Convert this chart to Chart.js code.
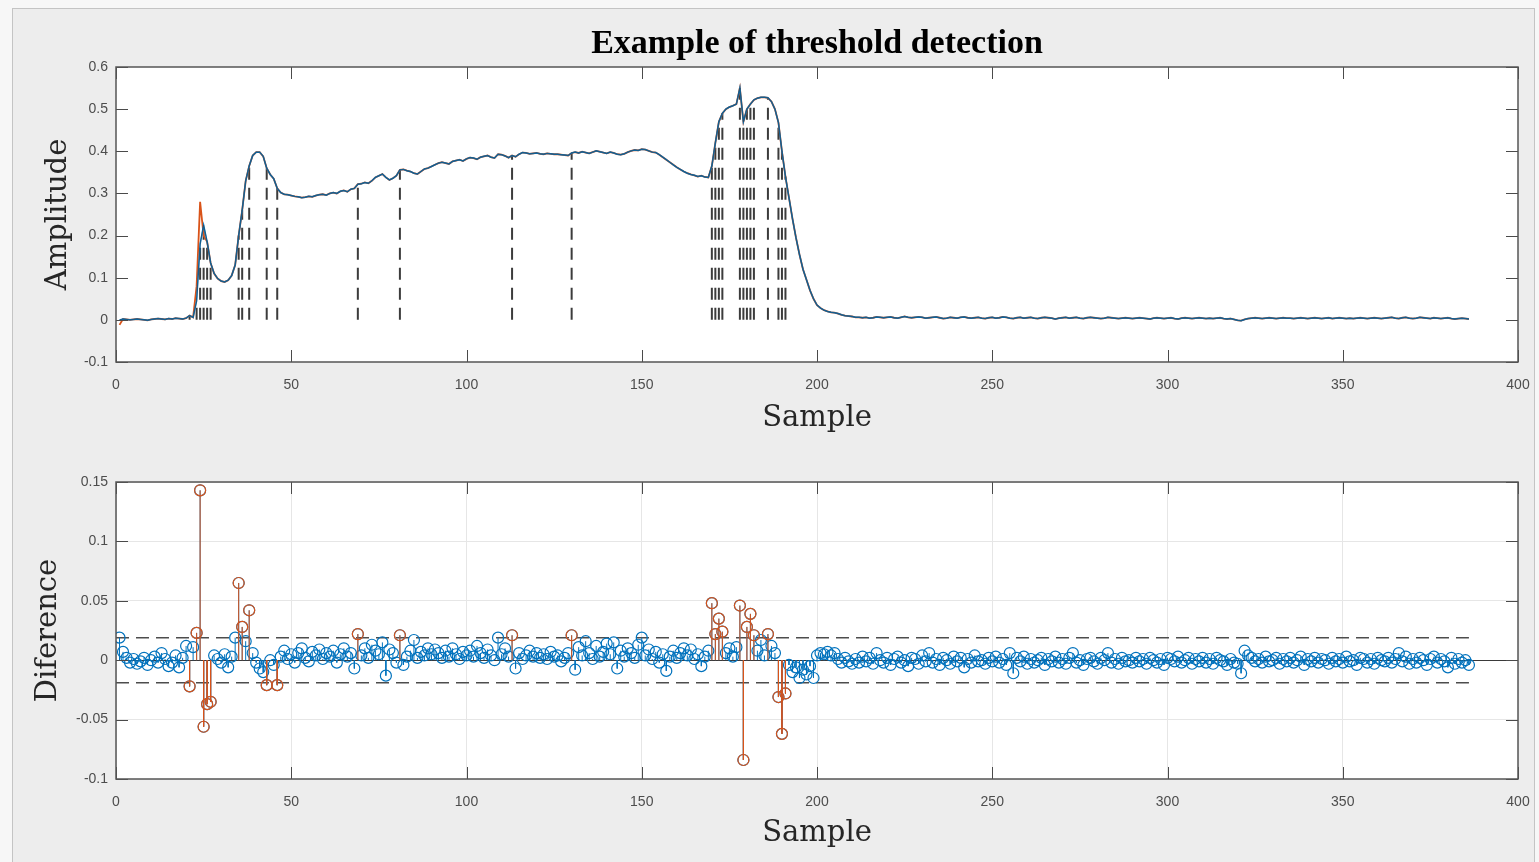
<!DOCTYPE html>
<html>
<head>
<meta charset="utf-8">
<title>Example of threshold detection</title>
<script src="https://cdn.jsdelivr.net/npm/chart.js@4.4.1/dist/chart.umd.min.js"></script>
<style>
  html, body { margin: 0; padding: 0; background: #f7f7f7; }
  body { width: 1539px; height: 862px; position: relative; overflow: hidden; }
  #panel { position: absolute; left: 12px; top: 8px; width: 1521px; height: 860px; background: #ededed;
           border-left: 1px solid #c4c4c4; border-top: 1px solid #c4c4c4; border-right: 1px solid #c4c4c4; }
  canvas { position: absolute; left: 0; }
  #ampChart { top: 0; }
  #diffChart { top: 440px; }
</style>
</head>
<body>
<div id="panel"></div>
<canvas id="ampChart" width="1539" height="440"></canvas>
<canvas id="diffChart" width="1539" height="422"></canvas>
<script>
// Threshold detection example: signal (top) and its sample-to-sample difference (bottom)

// Amplitude of the signal, samples 1..386
const amplitude = [
  0.000, 0.002, 0.001, 0.000, 0.001, 0.002, 0.001, 0.000, -0.001, 0.001,
  0.002, 0.003, 0.002, 0.001, 0.003, 0.002, 0.004, 0.003, 0.002, 0.004,
  0.010, 0.006, 0.045, 0.180, 0.225, 0.185, 0.135, 0.110, 0.098, 0.092,
  0.090, 0.094, 0.105, 0.130, 0.200, 0.260, 0.330, 0.365, 0.390, 0.398,
  0.398, 0.388, 0.360, 0.345, 0.335, 0.312, 0.302, 0.298, 0.297, 0.295,
  0.293, 0.292, 0.290, 0.291, 0.293, 0.292, 0.295, 0.297, 0.298, 0.296,
  0.300, 0.302, 0.300, 0.305, 0.307, 0.304, 0.310, 0.312, 0.322, 0.323,
  0.326, 0.324, 0.330, 0.338, 0.342, 0.346, 0.338, 0.332, 0.336, 0.342,
  0.356, 0.357, 0.354, 0.352, 0.348, 0.346, 0.352, 0.358, 0.360, 0.364,
  0.368, 0.372, 0.374, 0.372, 0.370, 0.376, 0.378, 0.380, 0.377, 0.382,
  0.385, 0.384, 0.381, 0.386, 0.388, 0.390, 0.386, 0.384, 0.393, 0.392,
  0.389, 0.385, 0.390, 0.387, 0.393, 0.397, 0.396, 0.394, 0.395, 0.396,
  0.394, 0.393, 0.395, 0.394, 0.393, 0.393, 0.392, 0.391, 0.390, 0.396,
  0.398, 0.396, 0.399, 0.397, 0.395, 0.398, 0.401, 0.399, 0.397, 0.395,
  0.398, 0.396, 0.393, 0.392, 0.394, 0.398, 0.401, 0.403, 0.402, 0.405,
  0.404, 0.401, 0.398, 0.397, 0.392, 0.386, 0.380, 0.374, 0.368, 0.362,
  0.357, 0.352, 0.348, 0.345, 0.343, 0.340, 0.342, 0.339, 0.338, 0.365,
  0.420, 0.470, 0.490, 0.500, 0.505, 0.508, 0.512, 0.550, 0.470, 0.500,
  0.512, 0.522, 0.526, 0.528, 0.528, 0.527, 0.518, 0.500, 0.468, 0.400,
  0.340, 0.290, 0.240, 0.195, 0.155, 0.120, 0.095, 0.070, 0.050, 0.035,
  0.028, 0.023, 0.020, 0.018, 0.017, 0.015, 0.012, 0.010, 0.009, 0.008, 0.006,
  0.006, 0.005, 0.006, 0.004, 0.005, 0.007, 0.006, 0.005, 0.006, 0.007, 0.005, 0.004, 0.006, 0.008, 0.006, 0.005, 0.006, 0.007, 0.006, 0.004, 0.005, 0.006, 0.007, 0.005, 0.003,
  0.004, 0.006, 0.005, 0.004, 0.006, 0.007, 0.005, 0.004, 0.005, 0.006, 0.004, 0.003, 0.005, 0.006, 0.004, 0.005, 0.007, 0.006, 0.004, 0.003, 0.005, 0.006, 0.004, 0.005, 0.006,
  0.004, 0.003, 0.005, 0.006, 0.005, 0.004, 0.002, 0.004, 0.005, 0.006, 0.004, 0.005, 0.006, 0.004, 0.003, 0.005, 0.006, 0.005, 0.004, 0.003, 0.004, 0.006, 0.005, 0.004, 0.003,
  0.004, 0.005, 0.004, 0.003, 0.004, 0.005, 0.004, 0.003, 0.002, 0.004, 0.005, 0.004, 0.003, 0.004, 0.005, 0.003, 0.002, 0.004, 0.005, 0.004, 0.003, 0.004, 0.005, 0.004, 0.003,
  0.004, 0.003, 0.004, 0.005, 0.003, 0.002, 0.003, 0.001, -0.001, -0.002, 0.001, 0.003, 0.004, 0.005, 0.004, 0.003, 0.004, 0.005, 0.004, 0.003, 0.004, 0.005, 0.004, 0.004, 0.003,
  0.004, 0.005, 0.004, 0.003, 0.004, 0.005, 0.004, 0.003, 0.004, 0.005, 0.003, 0.004, 0.005, 0.004, 0.003, 0.004, 0.003, 0.004, 0.005, 0.004, 0.003, 0.004, 0.005, 0.004, 0.003,
  0.004, 0.005, 0.006, 0.004, 0.003, 0.005, 0.006, 0.004, 0.003, 0.004, 0.006, 0.005, 0.004, 0.003, 0.005, 0.004, 0.003, 0.004, 0.005, 0.003, 0.002, 0.003, 0.004, 0.003, 0.002
];

// Second (orange) trace differs from the blue one only at these samples: [sample, value]
const filteredPeaks = [[1, -0.012], [23, 0.08], [24, 0.28], [25, 0.2]];

// Difference between consecutive samples, samples 1..386
const difference = [
  0.019, 0.007, 0.002, -0.002, 0.001, -0.003, -0.001, 0.002, -0.004, 0.000,
  0.003, -0.002, 0.006, 0.001, -0.005, -0.002, 0.004, -0.006, 0.002, 0.012,
  -0.022, 0.011, 0.023, 0.143, -0.056, -0.037, -0.035, 0.004, 0.001, -0.002,
  0.005, -0.006, 0.003, 0.019, 0.065, 0.028, 0.016, 0.042, 0.006, -0.002,
  -0.007, -0.010, -0.021, 0.000, -0.004, -0.021, 0.003, 0.008, 0.001, 0.005,
  -0.002, 0.006, 0.010, 0.002, -0.001, 0.007, 0.004, 0.009, 0.001, 0.006,
  0.003, 0.008, -0.002, 0.005, 0.010, 0.003, 0.006, -0.007, 0.022, 0.004,
  0.010, 0.002, 0.013, 0.008, 0.005, 0.015, -0.013, 0.009, 0.006, -0.002,
  0.021, -0.004, 0.003, 0.008, 0.017, 0.002, 0.007, 0.004, 0.010, 0.005,
  0.009, 0.006, 0.002, 0.008, 0.003, 0.010, 0.005, 0.001, 0.007, 0.004,
  0.008, 0.003, 0.012, 0.006, 0.002, 0.009, 0.004, 0.000, 0.019, 0.005,
  0.010, 0.003, 0.021, -0.007, 0.006, 0.001, 0.004, 0.008, 0.003, 0.006,
  0.002, 0.005, 0.001, 0.007, 0.003, 0.004, -0.001, 0.002, 0.006, 0.021,
  -0.008, 0.011, 0.004, 0.016, 0.006, 0.001, 0.012, 0.003, 0.007, 0.014,
  0.005, 0.015, -0.007, 0.008, 0.003, 0.010, 0.006, 0.002, 0.013, 0.019,
  0.004, 0.009, 0.001, 0.007, -0.002, 0.005, -0.009, 0.003, 0.008, 0.002,
  0.006, 0.010, 0.004, 0.009, 0.001, 0.005, -0.005, 0.003, 0.008, 0.048,
  0.022, 0.035, 0.024, 0.006, 0.010, 0.003, 0.011, 0.046, -0.084, 0.028,
  0.039, 0.021, 0.008, 0.017, 0.004, 0.022, 0.012, 0.006, -0.031, -0.062,
  -0.028, -0.004, -0.010, -0.006, -0.015, -0.008, -0.012, -0.005, -0.015, 0.004,
  0.006, 0.005, 0.007, 0.004, 0.006, 0.001, -0.002, 0.002, -0.001, -0.003,
  0.001, -0.002, 0.003, -0.001, 0.002, -0.003, 0.006, 0.000, -0.002, 0.002, -0.004, 0.001, 0.003, -0.002, 0.000, -0.005, 0.002, 0.001, -0.003, 0.004,
  -0.001, 0.006, -0.002, 0.001, -0.004, 0.002, 0.000, -0.003, 0.003, -0.001, 0.002, -0.006, 0.001, -0.002, 0.004, -0.001, 0.000, -0.003, 0.002, -0.001,
  0.003, -0.002, 0.001, -0.004, 0.006, -0.011, 0.002, -0.001, 0.003, -0.003, 0.001, -0.002, 0.000, 0.002, -0.004, 0.001, -0.001, 0.003, -0.002, 0.001,
  -0.003, 0.002, 0.006, -0.002, 0.000, -0.004, 0.001, 0.002, -0.001, -0.003, 0.002, 0.000, 0.006, -0.002, 0.001, -0.003, 0.002, -0.001, 0.000, -0.002,
  0.002, -0.001, 0.001, -0.003, 0.002, 0.000, -0.002, 0.001, -0.004, 0.002, 0.001, -0.001, 0.003, -0.002, 0.000, 0.002, -0.003, 0.001, -0.001, 0.002,
  -0.002, 0.001, -0.003, 0.002, 0.000, -0.001, -0.004, 0.001, -0.002, -0.003, -0.011, 0.008, 0.004, 0.002, -0.001, 0.001, -0.002, 0.003, -0.001, 0.000,
  0.002, -0.003, 0.001, -0.001, 0.002, -0.002, 0.000, 0.003, -0.004, 0.001, -0.001, 0.002, -0.002, 0.001, 0.000, -0.003, 0.002, -0.001, 0.001, -0.002,
  0.003, -0.001, 0.000, -0.004, 0.002, 0.001, -0.002, 0.001, -0.003, 0.002, 0.000, -0.001, 0.002, -0.002, 0.001, 0.006, -0.001, 0.003, -0.003, 0.001,
  -0.002, 0.002, 0.000, -0.004, 0.001, 0.003, -0.002, 0.001, -0.001, -0.006, 0.002, -0.003, 0.001, -0.002, 0.000, -0.004
];

// Samples whose difference goes past the threshold
const detections = [21, 23, 24, 25, 26, 27, 35, 36, 38, 43, 46, 69, 81, 113, 130,
  170, 171, 172, 173, 178, 179, 180, 181, 182, 186, 189, 190, 191];
const threshold = 0.019;

// Axis ticks
const sampleTicks = [0, 400, 50];        // min, max, step
const amplitudeTicks = [-0.1, 0.6, 0.1];
const differenceTicks = [-0.1, 0.15, 0.05];

const BLUE = '#0072BD';
const ORANGE = '#D95319';

Chart.defaults.font.family = "'Liberation Sans', Arial, sans-serif";
Chart.defaults.font.size = 14;
Chart.defaults.color = '#4d4d4d';

// helpers to turn the arrays into chart points
const samples = amplitude.map((_, i) => i + 1);
const toPoints = ys => ys.map((v, i) => ({ x: samples[i], y: v }));
const stemPoints = (idx, ys) => idx.flatMap(s => [{ x: s, y: 0 }, { x: s, y: ys[s - 1] }, { x: s, y: null }]);

const filtered = amplitude.slice();
filteredPeaks.forEach(([s, v]) => { filtered[s - 1] = v; });

// white axes area, inward ticks on all four sides and the box (MATLAB look)
const axesBox = {
  id: 'axesBox',
  beforeDraw(chart) {
    const { ctx, chartArea: a } = chart;
    ctx.save();
    ctx.fillStyle = '#ffffff';
    ctx.fillRect(a.left, a.top, a.right - a.left, a.bottom - a.top);
    ctx.restore();
  },
  beforeDatasetsDraw(chart, args, opts) {
    if (!opts.baseline) return;
    const { ctx, chartArea: a, scales } = chart;
    const y0 = Math.round(scales.y.getPixelForValue(0)) + 0.5;
    ctx.save();
    ctx.strokeStyle = '#3a3a3a';
    ctx.lineWidth = 1.2;
    ctx.beginPath();
    ctx.moveTo(a.left, y0);
    ctx.lineTo(a.right, y0);
    ctx.stroke();
    ctx.restore();
  },
  afterDraw(chart) {
    const { ctx, chartArea: a, scales: { x, y } } = chart;
    const len = 12;
    ctx.save();
    ctx.strokeStyle = '#4a4a4a';
    ctx.lineWidth = 1;
    ctx.beginPath();
    x.ticks.forEach(t => {
      const px = Math.round(x.getPixelForValue(t.value)) + 0.5;
      ctx.moveTo(px, a.bottom); ctx.lineTo(px, a.bottom - len);
      ctx.moveTo(px, a.top); ctx.lineTo(px, a.top + len);
    });
    y.ticks.forEach(t => {
      const py = Math.round(y.getPixelForValue(t.value)) + 0.5;
      ctx.moveTo(a.left, py); ctx.lineTo(a.left + len, py);
      ctx.moveTo(a.right, py); ctx.lineTo(a.right - len, py);
    });
    ctx.stroke();
    ctx.strokeStyle = '#555555';
    ctx.lineWidth = 1.5;
    ctx.strokeRect(a.left, a.top, a.right - a.left, a.bottom - a.top);
    ctx.restore();
  }
};

function tickLabel(v) {
  return String(+v.toFixed(2));
}

function buildScales(yTicks, yTitle, yTitlePad, xHeight, xTitlePad, showGrid) {
  const grid = { display: showGrid, color: '#e6e6e6', lineWidth: 1, drawTicks: false };
  return {
    x: {
      type: 'linear',
      min: sampleTicks[0], max: sampleTicks[1],
      border: { display: false },
      grid: grid,
      ticks: { stepSize: sampleTicks[2], padding: 15, maxRotation: 0, autoSkip: false, callback: tickLabel },
      title: { display: true, text: 'Sample', color: '#262626',
               font: { family: "'DejaVu Serif', serif", size: 29 }, padding: { top: 0, bottom: xTitlePad } },
      afterFit(scale) {
        scale.height = xHeight;
        // let the layout padding alone decide the right edge
        scale.paddingLeft = 0;
        scale.paddingRight = 0;
      }
    },
    y: {
      type: 'linear',
      min: yTicks[0], max: yTicks[1],
      border: { display: false },
      grid: grid,
      ticks: { stepSize: yTicks[2], padding: 8, autoSkip: false, callback: tickLabel },
      title: { display: true, text: yTitle, color: '#262626',
               font: { family: "'DejaVu Serif', serif", size: 29 }, padding: { top: yTitlePad, bottom: 0 } },
      afterFit(scale) { scale.width = 116; }
    }
  };
}

// Top: amplitude with dashed markers at detected samples
new Chart(document.getElementById('ampChart'), {
  type: 'scatter',
  data: {
    datasets: [
      {
        label: 'Signal (dark)',
        data: toPoints(amplitude),
        showLine: true,
        borderColor: 'rgba(60, 60, 60, 0.45)',
        borderWidth: 1,
        pointRadius: 0
      },
      {
        label: 'Signal',
        data: toPoints(amplitude),
        showLine: true,
        borderColor: BLUE,
        borderWidth: 1.5,
        pointRadius: 0
      },
      {
        label: 'Filtered',
        data: toPoints(filtered),
        showLine: true,
        borderColor: ORANGE,
        borderWidth: 1.8,
        pointRadius: 0
      },
      {
        label: 'Detections',
        data: stemPoints(detections, amplitude),
        showLine: true,
        spanGaps: false,
        borderColor: '#3c3c3c',
        borderWidth: 2,
        borderDash: [12, 8],
        pointRadius: 0
      }
    ]
  },
  options: {
    responsive: false,
    animation: false,
    events: [],
    layout: { padding: { left: 0, right: 21, top: 0, bottom: 0 } },
    plugins: {
      legend: { display: false },
      tooltip: { enabled: false },
      title: {
        display: true,
        fullSize: false,
        text: 'Example of threshold detection',
        color: '#000000',
        font: { family: "'Liberation Serif', serif", size: 34, weight: 'bold', lineHeight: 1 },
        padding: { top: 27, bottom: 6 }
      },
      axesBox: { baseline: false }
    },
    scales: buildScales(amplitudeTicks, 'Amplitude', 41, 78, 4, false)
  },
  plugins: [axesBox]
});

// Bottom: stem plot of the difference with the +/- threshold
const thresholdEnds = [0, samples.length];

new Chart(document.getElementById('diffChart'), {
  type: 'scatter',
  data: {
    datasets: [
      {
        label: 'Detected',
        data: detections.map(s => ({ x: s, y: difference[s - 1] })),
        pointStyle: 'circle',
        pointRadius: 5.5,
        pointBorderWidth: 1.2,
        pointBorderColor: ORANGE,
        pointBackgroundColor: 'rgba(0,0,0,0)'
      },
      {
        label: 'Detected stems',
        data: stemPoints(detections, difference),
        showLine: true,
        spanGaps: false,
        borderColor: ORANGE,
        borderWidth: 1,
        pointRadius: 0
      },
      {
        label: 'Difference',
        data: toPoints(difference),
        pointStyle: 'circle',
        pointRadius: 5.5,
        pointBorderWidth: 1.2,
        pointBorderColor: BLUE,
        pointBackgroundColor: 'rgba(0,0,0,0)'
      },
      {
        label: 'Difference stems',
        data: stemPoints(samples, difference),
        showLine: true,
        spanGaps: false,
        borderColor: BLUE,
        borderWidth: 1,
        pointRadius: 0
      },
      {
        label: 'Upper threshold',
        data: thresholdEnds.map(s => ({ x: s, y: threshold })),
        showLine: true,
        borderColor: '#4d4d4d',
        borderWidth: 1.5,
        borderDash: [13, 7],
        pointRadius: 0
      },
      {
        label: 'Lower threshold',
        data: thresholdEnds.map(s => ({ x: s, y: -threshold })),
        showLine: true,
        borderColor: '#4d4d4d',
        borderWidth: 1.5,
        borderDash: [13, 7],
        pointRadius: 0
      }
    ]
  },
  options: {
    responsive: false,
    animation: false,
    events: [],
    layout: { padding: { left: 0, right: 21, top: 42, bottom: 0 } },
    plugins: {
      legend: { display: false },
      tooltip: { enabled: false },
      axesBox: { baseline: true }
    },
    scales: buildScales(differenceTicks, 'Diference', 31, 83, 11, true)
  },
  plugins: [axesBox]
});
</script>
</body>
</html>
